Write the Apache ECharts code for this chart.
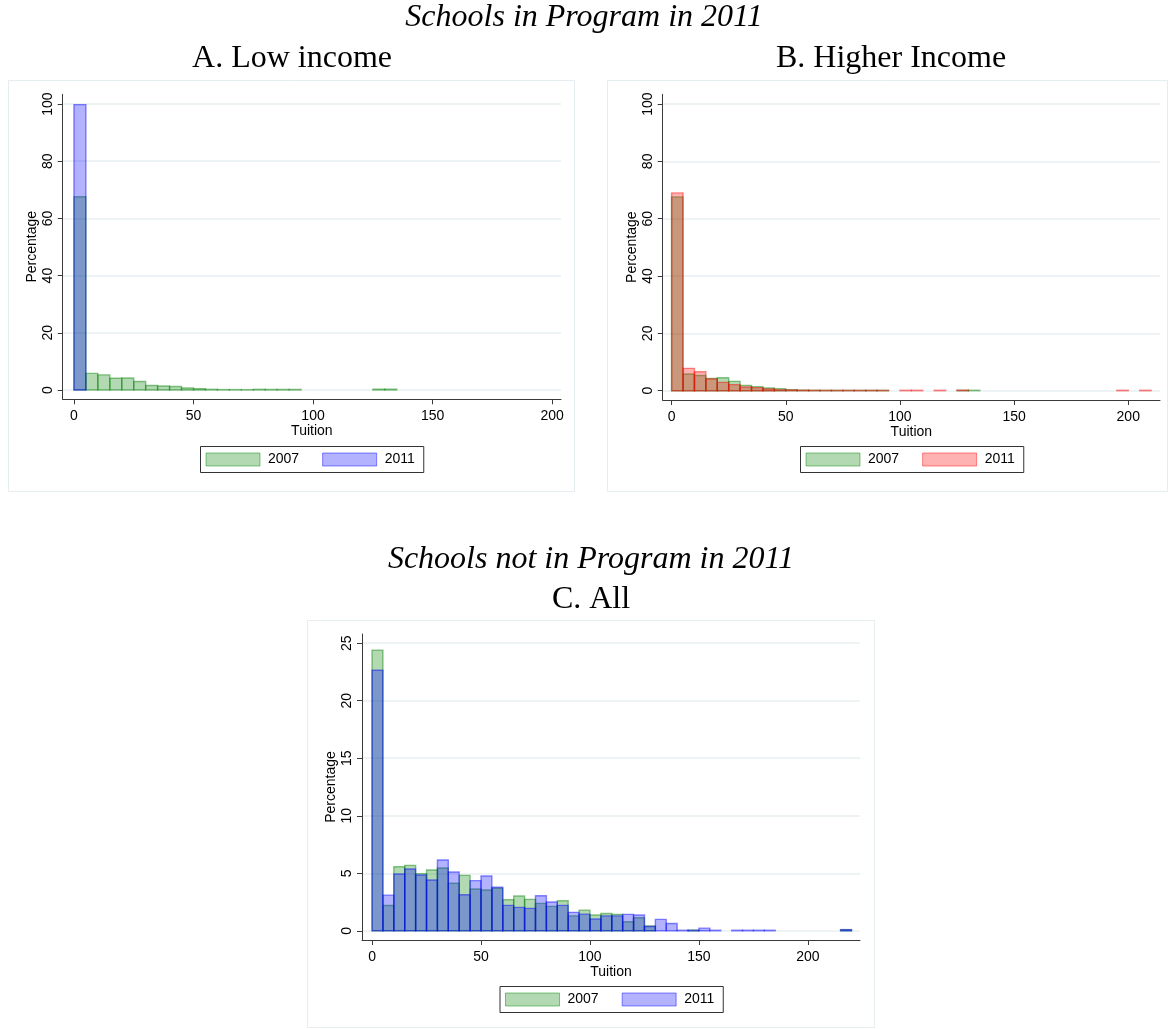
<!DOCTYPE html>
<html>
<head>
<meta charset="utf-8">
<title>Tuition distribution</title>
<script src="https://cdn.jsdelivr.net/npm/echarts@6/dist/echarts.min.js"></script>
<style>
  html, body { margin: 0; padding: 0; background: #ffffff; }
  #chart { width: 1169px; height: 1029px; }
</style>
</head>
<body>
<div id="chart"></div>
<script>
// Histogram bins (lower edge of each 5-unit tuition bin)
const binLower = [0, 5, 10, 15, 20, 25, 30, 35, 40, 45, 50, 55, 60, 65, 70, 75, 80, 85, 90, 95,
  100, 105, 110, 115, 120, 125, 130, 135, 140, 145, 150, 155, 160, 165, 170, 175, 180, 185, 190, 195,
  200, 205, 210, 215];
const binWidth = 5;

// Percentage of schools per bin
const lowIncome2007 = [67.6, 5.8, 5.3, 4.1, 4.2, 3.0, 1.6, 1.4, 1.2, 0.7, 0.5, 0.25, 0.15, 0.15, 0.1, 0.25, 0.2, 0.2, 0.2, 0,
  0, 0, 0, 0, 0, 0.3, 0.3, 0, 0, 0, 0, 0, 0, 0, 0, 0, 0, 0, 0, 0,
  0, 0, 0, 0];
const lowIncome2011 = [99.8, 0, 0, 0, 0, 0, 0, 0, 0, 0, 0, 0, 0, 0, 0, 0, 0, 0, 0, 0,
  0, 0, 0, 0, 0, 0, 0, 0, 0, 0, 0, 0, 0, 0, 0, 0, 0, 0, 0, 0,
  0, 0, 0, 0];
const higherIncome2007 = [67.6, 5.8, 5.3, 4.3, 4.5, 3.25, 1.86, 1.4, 0.93, 0.7, 0.35, 0.2, 0.15, 0.1, 0.1, 0.1, 0.1, 0.1, 0.1, 0,
  0, 0, 0, 0, 0, 0.15, 0.15, 0, 0, 0, 0, 0, 0, 0, 0, 0, 0, 0, 0, 0,
  0, 0, 0, 0];
const higherIncome2011 = [69.0, 7.8, 6.6, 4.1, 2.9, 2.1, 1.3, 1.05, 0.6, 0.3, 0.25, 0.15, 0.1, 0.1, 0.1, 0.1, 0.1, 0.1, 0.1, 0,
  0.15, 0.15, 0, 0.15, 0, 0.15, 0, 0, 0, 0, 0, 0, 0, 0, 0, 0, 0, 0, 0, 0.15,
  0, 0.15, 0, 0];
const notInProgram2007 = [24.4, 2.2, 5.57, 5.69, 4.97, 5.29, 5.46, 4.13, 4.82, 3.63, 3.54, 3.7, 2.7, 3.02, 2.73, 2.38, 2.12, 2.61, 1.3, 1.8,
  1.37, 1.5, 1.43, 0.78, 1.13, 0.42, 0, 0, 0, 0.05, 0, 0, 0, 0, 0, 0, 0, 0, 0, 0,
  0, 0, 0, 0.1];
const notInProgram2011 = [22.65, 3.1, 4.94, 5.37, 4.85, 4.42, 6.16, 5.11, 3.14, 4.36, 4.76, 3.78, 2.21, 2.04, 1.95, 3.05, 2.5, 2.21, 1.6, 1.45,
  1.02, 1.3, 1.3, 1.43, 1.37, 0.38, 0.99, 0.64, 0.05, 0.05, 0.23, 0.05, 0, 0.05, 0.05, 0.05, 0.05, 0, 0, 0,
  0, 0, 0, 0.1];

// Axis ticks
const tuitionTicks = [0, 50, 100, 150, 200];
const percentTicksInProgram = [0, 20, 40, 60, 80, 100];
const percentTicksNotInProgram = [0, 5, 10, 15, 20, 25];

const yearLabels = ['2007', '2011'];
const panelTitles = ['A. Low income', 'B. Higher Income', 'C. All'];
const groupTitles = ['Schools in Program in 2011', 'Schools not in Program in 2011'];

const SANS = '"Liberation Sans", Arial, sans-serif';
const SERIF = '"Liberation Serif", "Times New Roman", serif';
const AXIS = '#3a3a3a';
const GRIDLINE = '#e8eff2';

const GREEN = { fill: 'rgba(0,128,0,0.3)', stroke: 'rgba(0,128,0,0.45)' };
const BLUE = { fill: 'rgba(0,0,255,0.3)', stroke: 'rgba(0,0,255,0.45)' };
const RED = { fill: 'rgba(255,0,0,0.3)', stroke: 'rgba(255,0,0,0.45)' };

function binData(values) {
  const out = [];
  values.forEach((v, i) => {
    if (v > 0) out.push([binLower[i], binLower[i] + binWidth, v]);
  });
  return out;
}

function histSeries(name, values, idx, col) {
  return {
    type: 'custom',
    name: name,
    xAxisIndex: idx,
    yAxisIndex: idx,
    data: binData(values),
    encode: { x: [0, 1], y: 2 },
    silent: true,
    animation: false,
    renderItem: function (params, api) {
      const top = api.coord([api.value(0), api.value(2)]);
      const base = api.coord([api.value(1), 0]);
      return {
        type: 'rect',
        shape: { x: top[0], y: top[1], width: base[0] - top[0], height: base[1] - top[1] },
        style: { fill: col.fill, stroke: col.stroke, lineWidth: 1.4 }
      };
    }
  };
}

function xAxisFor(idx, min, max) {
  return {
    type: 'value', gridIndex: idx, min: min, max: max,
    name: 'Tuition', nameLocation: 'middle', nameGap: 25,
    nameTextStyle: { fontFamily: SANS, fontSize: 14, color: '#000' },
    axisLine: { show: true, onZero: false, lineStyle: { color: AXIS, width: 1 } },
    axisTick: { show: true, length: 5, customValues: tuitionTicks, lineStyle: { color: AXIS } },
    axisLabel: { customValues: tuitionTicks, margin: 10, fontFamily: SANS, fontSize: 14, color: '#000' },
    splitLine: { show: false }
  };
}

function yAxisFor(idx, min, max, ticks) {
  return {
    type: 'value', gridIndex: idx, min: min, max: max,
    name: 'Percentage', nameLocation: 'middle', nameGap: 24,
    nameTextStyle: { fontFamily: SANS, fontSize: 14, color: '#000' },
    axisLine: { show: true, onZero: false, lineStyle: { color: AXIS, width: 1 } },
    axisTick: { show: true, length: 5, customValues: ticks, lineStyle: { color: AXIS } },
    axisLabel: { customValues: ticks, rotate: 90, margin: 8, fontFamily: SANS, fontSize: 14, color: '#000' },
    splitLine: { show: true, lineStyle: { color: GRIDLINE, width: 1.5 } }
  };
}

function legendFor(left, top, secondColour) {
  return {
    left: left, top: top,
    orient: 'horizontal',
    selectedMode: false,
    icon: 'rect',
    itemWidth: 54, itemHeight: 13, itemGap: 23,
    padding: [6, 9, 6, 5],
    borderColor: '#333', borderWidth: 1,
    backgroundColor: '#fff',
    textStyle: { fontFamily: SANS, fontSize: 14, color: '#000', padding: [0, 0, 0, 3] },
    data: [
      { name: yearLabels[0], itemStyle: { color: GREEN.fill, borderColor: GREEN.stroke, borderWidth: 1 } },
      { name: yearLabels[1], itemStyle: { color: secondColour.fill, borderColor: secondColour.stroke, borderWidth: 1 } }
    ]
  };
}

function titleText(text, x, y, italic) {
  return {
    type: 'text', x: x, y: y, silent: true,
    style: {
      text: text, align: 'center', verticalAlign: 'middle',
      fontFamily: SERIF, fontSize: 32, fontStyle: italic ? 'italic' : 'normal', fill: '#000'
    }
  };
}

function panelBox(x, y, w, h) {
  return {
    type: 'rect', silent: true, z: -10,
    shape: { x: x, y: y, width: w, height: h },
    style: { fill: 'none', stroke: '#e6edf0', lineWidth: 1 }
  };
}

const chart = echarts.init(document.getElementById('chart'), null, { renderer: 'canvas' });

chart.setOption({
  backgroundColor: '#ffffff',
  animation: false,
  grid: [
    { left: 62.7, top: 94.3, width: 498.3, height: 305, outerBoundsMode: 'none', containLabel: false },
    { left: 662.7, top: 94.3, width: 497.3, height: 305.7, outerBoundsMode: 'none', containLabel: false },
    { left: 362, top: 634, width: 498, height: 306, outerBoundsMode: 'none', containLabel: false }
  ],
  xAxis: [
    xAxisFor(0, -4.7, 203.7),
    xAxisFor(1, -3.9, 213.9),
    xAxisFor(2, -4.6, 223.9)
  ],
  yAxis: [
    yAxisFor(0, -3.25, 103.4, percentTicksInProgram),
    yAxisFor(1, -3.25, 103.4, percentTicksInProgram),
    yAxisFor(2, -0.8, 25.8, percentTicksNotInProgram)
  ],
  legend: [
    legendFor(200.5, 446.5, BLUE),
    legendFor(800.5, 446.5, RED),
    legendFor(500, 986.5, BLUE)
  ],
  graphic: [
    panelBox(8.5, 80.5, 566, 411),
    panelBox(607.5, 80.5, 560, 411),
    panelBox(307.5, 620.5, 567, 407),
    titleText(groupTitles[0], 584, 18, true),
    titleText(panelTitles[0], 292, 59, false),
    titleText(panelTitles[1], 891, 59, false),
    titleText(groupTitles[1], 591, 560, true),
    titleText(panelTitles[2], 591, 600, false)
  ],
  series: [
    histSeries(yearLabels[0], lowIncome2007, 0, GREEN),
    histSeries(yearLabels[1], lowIncome2011, 0, BLUE),
    histSeries(yearLabels[0], higherIncome2007, 1, GREEN),
    histSeries(yearLabels[1], higherIncome2011, 1, RED),
    histSeries(yearLabels[0], notInProgram2007, 2, GREEN),
    histSeries(yearLabels[1], notInProgram2011, 2, BLUE)
  ]
});
</script>
</body>
</html>
